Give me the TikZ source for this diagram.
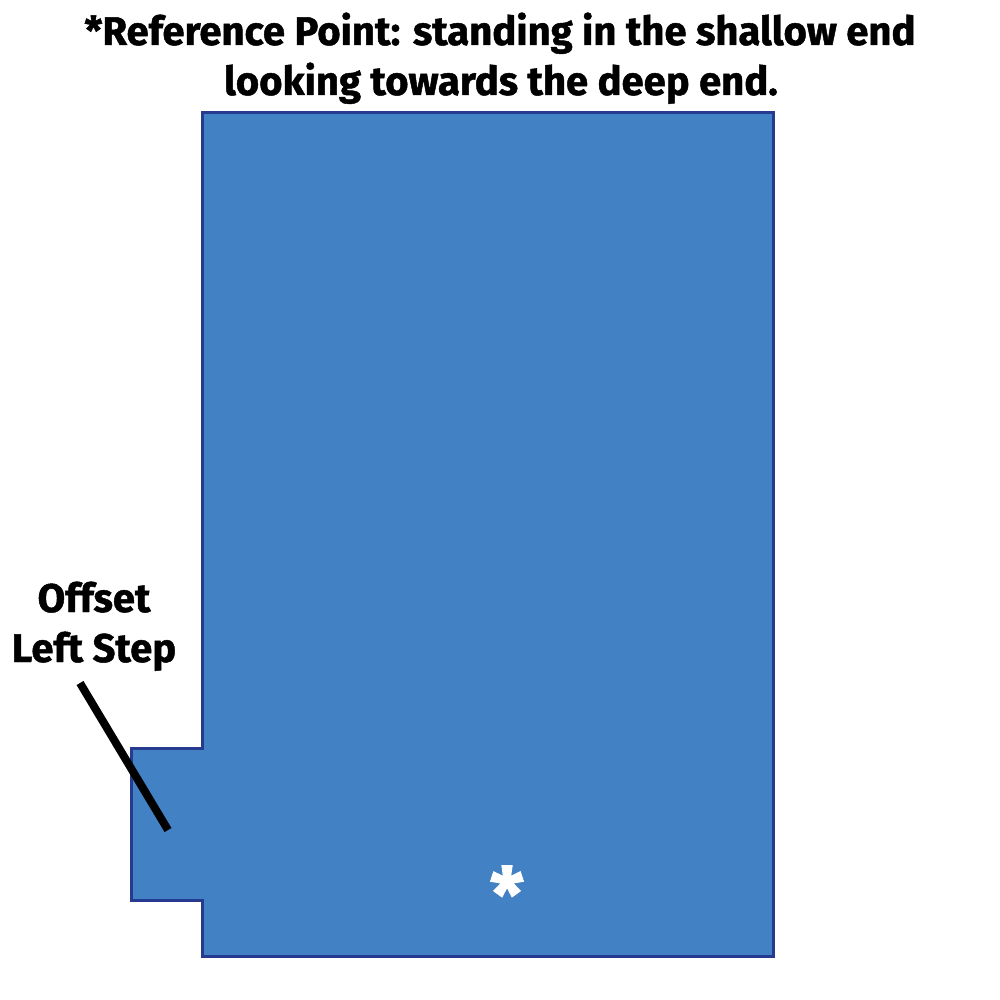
\documentclass[tikz,border=0pt]{standalone}
\usepackage{fontspec}
\setmainfont{Fira Sans}[BoldFeatures={FakeBold=1.2}]
\newfontfamily\labelfont{Fira Sans}[BoldFeatures={FakeBold=1.2}]
\definecolor{poolblue}{HTML}{4281C4}
\definecolor{pooledge}{HTML}{263A8F}
\begin{document}
\begin{tikzpicture}[x=1pt,y=-1pt]
    \useasboundingbox (0,0) rectangle (1000,1000);
    % pool outline with the step on the left
    \draw [fill=poolblue, draw=pooledge, line width=3] (202,113) -- (773,113) -- (773,956) -- (202,956) -- (202,900) -- (131,900) -- (131,748) -- (202,748) -- cycle;
    % heading
    \node (titlea) at (500,45) [anchor=base, font=\bfseries\fontsize{40}{48}\selectfont] {*Reference Point: standing in the shallow end};
    \node (titleb) at (501,95) [anchor=base, font=\bfseries\fontsize{40}{48}\selectfont] {looking towards the deep end.};
    % step label and leader
    \node (offset) at (94,612) [anchor=base, font=\labelfont\bfseries\fontsize{40}{48}\selectfont] {Offset};
    \node (leftstep) at (94,662) [anchor=base, font=\labelfont\bfseries\fontsize{40}{48}\selectfont] {Left Step};
    \coordinate (leadtop) at (80,683);
    \coordinate (leadend) at (168,830);
    \draw [line width=8] (leadtop) -- (leadend);
    % reference mark
    \node (refmark) at (507,922) [anchor=base, text=white, font=\bfseries\fontsize{76}{76}\selectfont] {*};
\end{tikzpicture}
\end{document}
